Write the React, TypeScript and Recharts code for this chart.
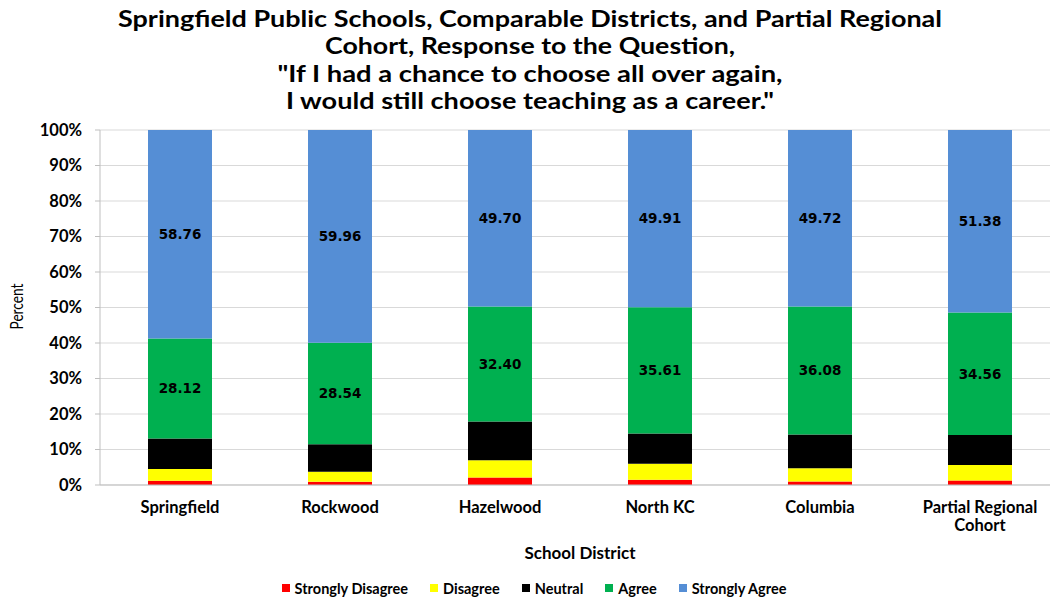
import { BarChart, Bar, XAxis, YAxis, CartesianGrid, Legend, LabelList } from "recharts";

const districts = ["Springfield", "Rockwood", "Hazelwood", "North KC", "Columbia", "Partial Regional Cohort"];
const stronglyDisagree = [1.2, 0.9, 2.1, 1.5, 1.0, 1.3];
const disagree = [3.3, 2.8, 4.9, 4.5, 3.7, 4.3];
const neutral = [8.62, 7.8, 10.9, 8.48, 9.5, 8.46];
const agree = [28.12, 28.54, 32.4, 35.61, 36.08, 34.56];
const stronglyAgree = [58.76, 59.96, 49.7, 49.91, 49.72, 51.38];
const yTicks = [0, 10, 20, 30, 40, 50, 60, 70, 80, 90, 100];

const titleLines = [
  "Springfield Public Schools, Comparable Districts, and Partial Regional",
  "Cohort, Response to the Question,",
  "\"If I had a chance to choose all over again,",
  "I would still choose teaching as a career.\"",
];
const titleWidths = [824, 410, 505, 488];

const series = [
  { key: "sd", name: "Strongly Disagree", color: "#FF0000", values: stronglyDisagree, label: false },
  { key: "d", name: "Disagree", color: "#FFFF00", values: disagree, label: false },
  { key: "n", name: "Neutral", color: "#000000", values: neutral, label: false },
  { key: "a", name: "Agree", color: "#00B050", values: agree, label: true },
  { key: "sa", name: "Strongly Agree", color: "#558ED5", values: stronglyAgree, label: true },
];

const data = districts.map((name, i) => {
  const row: Record<string, string | number> = { name };
  series.forEach((s) => (row[s.key] = s.values[i]));
  return row;
});

const FONT = "Lato, 'Open Sans', sans-serif";

function DistrictTick({ x, y, payload }: any) {
  const text: string = payload.value;
  const cut = text.lastIndexOf(" ");
  const lines = text.length > 15 ? [text.slice(0, cut), text.slice(cut + 1)] : [text];
  return (
    <text x={x} y={y} textAnchor="middle" fontFamily={FONT} fontWeight={700} fontSize={16.5} fill="#000">
      {lines.map((l, i) => (
        <tspan key={i} x={x} dy={i === 0 ? 20 : 18}>{l}</tspan>
      ))}
    </text>
  );
}

function PercentLabel({ viewBox }: any) {
  const cx = 16;
  const cy = viewBox.y + viewBox.height / 2 - 1;
  return (
    <text x={cx} y={cy} transform={`rotate(-90 ${cx} ${cy})`} textAnchor="middle" dominantBaseline="central"
      fontFamily={FONT} fontSize={17} fill="#000" textLength={46} lengthAdjust="spacingAndGlyphs">
      Percent
    </text>
  );
}

function LegendContent() {
  return (
    <div style={{ display: "flex", justifyContent: "center", gap: 22, fontFamily: FONT, fontWeight: 700, fontSize: 14.5, color: "#000", height: 18, alignItems: "center", paddingLeft: 8 }}>
      {series.map((s) => (
        <div key={s.key} style={{ display: "flex", alignItems: "center", gap: 5 }}>
          <span style={{ width: 8, height: 8, background: s.color, display: "inline-block" }} />
          <span>{s.name}</span>
        </div>
      ))}
    </div>
  );
}

export default function App() {
  return (
    <div style={{ position: "absolute", left: 0, top: 0, width: 1050, height: 597, overflow: "hidden", background: "#fff" }}>
      <svg width={1050} height={120} style={{ position: "absolute", left: 0, top: 0 }}>
        {titleLines.map((t, i) => (
          <text key={i} x={530} y={27 + i * 27.3} textAnchor="middle" fontFamily={FONT} fontWeight={700} fontSize={22}
            fill="#000" textLength={titleWidths[i]} lengthAdjust="spacingAndGlyphs">
            {t}
          </text>
        ))}
      </svg>
      <BarChart
        width={1070}
        height={597}
        data={data}
        margin={{ top: 130, right: 10, left: 0, bottom: 0 }}
        barCategoryGap="30%"
        style={{ position: "absolute", left: 0, top: 0 }}
      >
        <CartesianGrid vertical={false} stroke="#D9D9D9" />
        <XAxis
          dataKey="name"
          height={94}
          tickLine={false}
          axisLine={{ stroke: "#BFBFBF" }}
          tick={<DistrictTick />}
          interval={0}
          label={{ value: "School District", position: "insideBottom", offset: 20, fontFamily: FONT, fontWeight: 700, fontSize: 17, fill: "#000" }}
        />
        <YAxis
          width={100}
          domain={[0, 100]}
          ticks={yTicks}
          tickFormatter={(v: number) => `${v}%`}
          axisLine={{ stroke: "#BFBFBF" }}
          tickLine={{ stroke: "#BFBFBF" }}
          tickSize={5}
          tickMargin={13}
          tick={{ fontFamily: FONT, fontWeight: 700, fontSize: 16.5, fill: "#000" }}
          label={<PercentLabel />}
        />
        <Legend verticalAlign="bottom" height={18} content={<LegendContent />} />
        {series.map((s) => (
          <Bar key={s.key} dataKey={s.key} name={s.name} stackId="1" fill={s.color} isAnimationActive={false}>
            {s.label && (
              <LabelList
                dataKey={s.key}
                position="center"
                formatter={(v: any) => Number(v).toFixed(2)}
                fill="#000"
                style={{ fontFamily: "'DejaVu Sans', sans-serif", fontWeight: 700, fontSize: 13.5 }}
              />
            )}
          </Bar>
        ))}
      </BarChart>
    </div>
  );
}
